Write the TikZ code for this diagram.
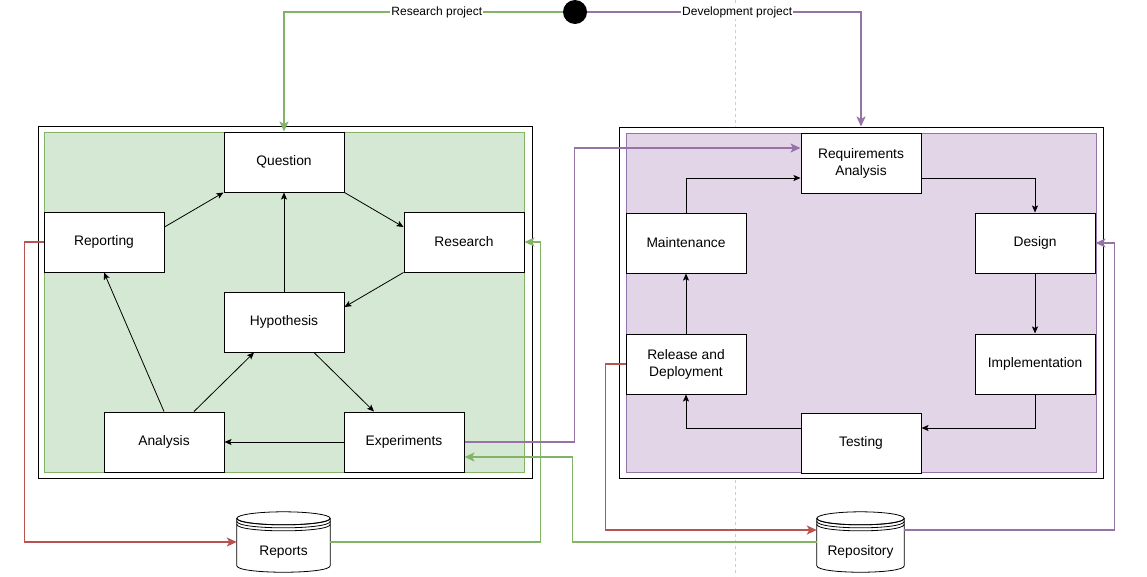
\documentclass[tikz,border=0pt]{standalone}
\usepackage{fontspec}
\setmainfont{Liberation Sans}
\usetikzlibrary{arrows.meta,calc}
\definecolor{gline}{HTML}{82B366}
\definecolor{gfill}{HTML}{D5E8D4}
\definecolor{pline}{HTML}{9673A6}
\definecolor{pfill}{HTML}{E1D5E7}
\definecolor{rline}{HTML}{B85450}
\tikzset{
  stepbox/.style={draw=black, fill=white, line width=1pt, minimum width=120pt, minimum height=60pt, inner sep=0pt, align=center, font=\fontsize{13.8}{17}\selectfont},
  outerbox/.style={draw=black, fill=white, line width=1pt, inner sep=0pt},
  flow/.style={line width=0.8pt, -{Stealth[length=7pt,width=6pt,inset=1.5pt]}},
  link/.style={line width=1.6pt, -{Stealth[length=10pt,width=9pt,inset=2.5pt]}},
  lbl/.style={fill=white, inner sep=1pt, font=\fontsize{12}{14}\selectfont},
  storebox/.style={inner sep=0pt, minimum height=60pt},
  storetext/.style={font=\fontsize{13.8}{16}\selectfont},
}
\newcommand{\datastore}[1]{%
  \draw[line width=0.8pt, fill=white]
    let \p1=(#1.north west), \p2=(#1.south east) in
    (\x1,\y1-6.5) -- (\x1,\y2+6.5) .. controls (\x1,\y2-2.2) and (\x2,\y2-2.2) .. (\x2,\y2+6.5) -- (\x2,\y1-6.5);
  \draw[line width=0.8pt, fill=white]
    let \p1=(#1.north west), \p2=(#1.south east) in
    ({(\x1+\x2)/2},\y1-6.5) ellipse [x radius={(\x2-\x1)/2}, y radius=6.5pt];
  \draw[line width=0.8pt]
    let \p1=(#1.north west), \p2=(#1.south east) in
    (\x1,\y1-6.5) .. controls (\x1,\y1-15.2) and (\x2,\y1-15.2) .. (\x2,\y1-6.5)
    (\x1,\y1-9.5) .. controls (\x1,\y1-18.2) and (\x2,\y1-18.2) .. (\x2,\y1-9.5)
    (\x1,\y1-12.5) .. controls (\x1,\y1-21.2) and (\x2,\y1-21.2) .. (\x2,\y1-12.5);
}
\begin{document}
\begin{tikzpicture}[x=1pt,y=-1pt]
\useasboundingbox (0,0) rectangle (1147,576);
% dashed guide
\draw[gray!40, dashed, line width=0.6pt] (735,0) -- (735,576);
% outer and inner boxes
\node[outerbox, minimum width=494pt, minimum height=352pt] (resbox) at (285,302) {};
\node[draw=gline, fill=gfill, line width=0.8pt, minimum width=480pt, minimum height=340pt, inner sep=0pt] (resin) at (284,302) {};
\node[outerbox, minimum width=484pt, minimum height=351pt] (devbox) at (861,302.5) {};
\node[draw=pline, fill=pfill, line width=0.8pt, minimum width=470pt, minimum height=339pt, inner sep=0pt] (devin) at (861,302.5) {};
% start dot
\node[circle, fill=black, minimum size=24pt, inner sep=0pt] (dot) at (575,12) {};
% left nodes
\node[stepbox] (question) at (284,162) {Question};
\node[stepbox] (reporting) at (104,242) {Reporting};
\node[stepbox] (research) at (464,242) {Research};
\node[stepbox] (hypothesis) at (284,322) {Hypothesis};
\node[stepbox] (analysis) at (164,442) {Analysis};
\node[stepbox] (experiments) at (404,442) {Experiments};
% right nodes
\node[stepbox] (req) at (861,163) {Requirements\\Analysis};
\node[stepbox] (maintenance) at (686,243) {Maintenance};
\node[stepbox] (design) at (1035,243) {Design};
\node[stepbox] (release) at (686,364) {Release and\\Deployment};
\node[stepbox] (implementation) at (1035,364) {Implementation};
\node[stepbox] (testing) at (861,443) {Testing};
% stores
\node[storebox, minimum width=93pt] (reports) at (283.5,542) {};
\node[storebox, minimum width=87pt] (repository) at (860.5,542) {};
\datastore{reports}
\datastore{repository}
\node[storetext] at ([yshift=-10pt]reports.center) {Reports};
\node[storetext] at ([yshift=-10pt]repository.center) {Repository};
% left internal flows
\draw[flow] ([yshift=15pt]reporting.east) -- (question.south west);
\draw[flow] (question.south east) -- ([yshift=15pt]research.west);
\draw[flow] (research.south west) -- ([yshift=15pt]hypothesis.east);
\draw[flow] (hypothesis.north) -- (question.south);
\draw[flow] ([xshift=30pt]hypothesis.south) -- ([xshift=-30pt]experiments.north);
\draw[flow] (experiments.west) -- (analysis.east);
\draw[flow] ([xshift=30pt]analysis.north) -- ([xshift=-30pt]hypothesis.south);
\draw[flow] (analysis.north) -- (reporting.south);
% right internal flows
\draw[flow] (maintenance.north) |- ([yshift=-15pt]req.west);
\draw[flow] ([yshift=-15pt]req.east) -| (design.north);
\draw[flow] (design.south) -- (implementation.north);
\draw[flow] (implementation.south) |- ([yshift=15pt]testing.east);
\draw[flow] ([yshift=15pt]testing.west) -| (release.south);
\draw[flow] (release.north) -- (maintenance.south);
% project links
\draw[link, gline] (dot.west) -| node[lbl, text=black, pos=0.226] {Research project} (question.north);
\draw[link, pline] (dot.east) -| node[lbl, text=black, pos=0.274] {Development project} (devbox.north);
% cross links
\draw[link, rline] (reporting.west) -- ++(-19,0) |- (reports.west);
\draw[link, gline] (reports.east) -| ([xshift=16pt]research.east) -- (research.east);
\draw[link, pline] (experiments.east) -- ++(110,0) |- ([yshift=15pt]req.west);
\draw[link, gline] (repository.west) -| ([xshift=108pt,yshift=-15pt]experiments.east) -- ([yshift=-15pt]experiments.east);
\draw[link, rline] (release.west) -- ++(-20,0) |- ([yshift=12pt]repository.west);
\draw[link, pline] ([yshift=12pt]repository.east) -| ([xshift=19pt]design.east) -- (design.east);
\end{tikzpicture}
\end{document}
